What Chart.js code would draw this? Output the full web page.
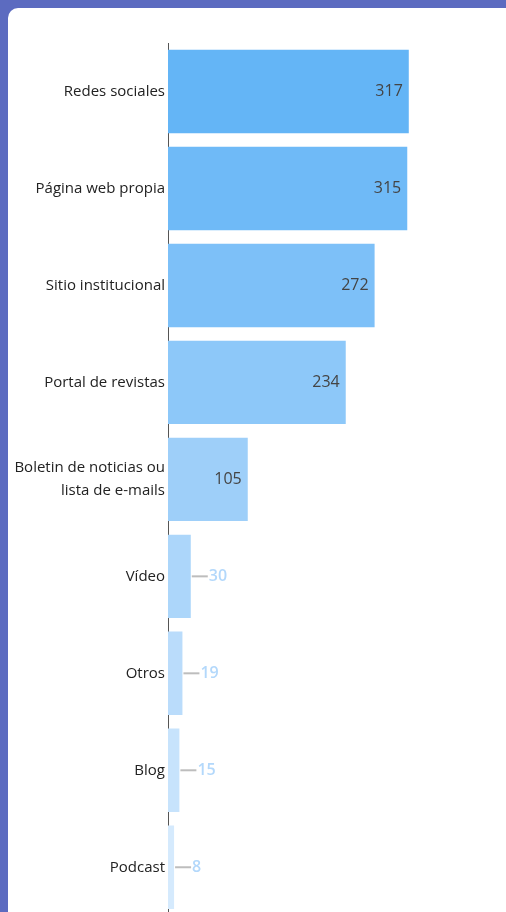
<!DOCTYPE html>
<html>
<head>
<meta charset="utf-8">
<script src="https://cdn.jsdelivr.net/npm/chart.js@4"></script>
<style>
  html, body { margin: 0; padding: 0; background: #5c6bc0; overflow: hidden; }
  body { width: 506px; height: 912px; position: relative; }
  .card { position: absolute; left: 8px; top: 8px; width: 520px; height: 1000px; background: #fff; border-top-left-radius: 10px; }
  #chart { position: absolute; left: 0; top: 0; }
</style>
</head>
<body>
<div class="card"></div>
<canvas id="chart" width="506" height="930"></canvas>
<script>
const categories = [
  'Redes sociales',
  'Página web propia',
  'Sitio institucional',
  'Portal de revistas',
  ['Boletin de noticias ou', 'lista de e-mails'],
  'Vídeo',
  'Otros',
  'Blog',
  'Podcast'
];
const values = [317, 315, 272, 234, 105, 30, 19, 15, 8];
const barColors = ['#64b5f6', '#6fbaf7', '#7dc0f8', '#8dc8f9', '#9ecff9', '#acd6fa', '#badcfb', '#c7e3fc', '#d5eafd'];

const fontFamily = '"Open Sans", sans-serif';

const valueLabels = {
  id: 'valueLabels',
  afterDatasetsDraw(chart) {
    const ctx = chart.ctx;
    const meta = chart.getDatasetMeta(0);
    ctx.save();
    ctx.textBaseline = 'middle';
    meta.data.forEach((bar, i) => {
      const w = bar.x - bar.base;
      if (w > 60) {
        ctx.font = '16px ' + fontFamily;
        ctx.fillStyle = '#444';
        ctx.textAlign = 'right';
        ctx.fillText(values[i], bar.x - 6, bar.y);
      } else {
        ctx.strokeStyle = '#bdbdbd';
        ctx.lineWidth = 2;
        ctx.beginPath();
        ctx.moveTo(bar.x + 1, bar.y);
        ctx.lineTo(bar.x + 17, bar.y);
        ctx.stroke();
        ctx.font = '600 16px ' + fontFamily;
        ctx.fillStyle = '#b3d8fb';
        ctx.textAlign = 'left';
        ctx.fillText(values[i], bar.x + 18, bar.y);
      }
    });
    ctx.restore();
  }
};

new Chart(document.getElementById('chart'), {
  type: 'bar',
  data: {
    labels: categories,
    datasets: [{
      data: values,
      backgroundColor: barColors,
      borderWidth: 0,
      categoryPercentage: 1,
      barPercentage: 0.86
    }]
  },
  options: {
    indexAxis: 'y',
    responsive: false,
    animation: false,
    layout: { padding: { top: 43, right: 0, left: 0, bottom: 0 } },
    plugins: { legend: { display: false }, tooltip: { enabled: false } },
    scales: {
      x: { display: false, min: 0, max: 445 },
      y: {
        afterFit(scale) { scale.width = 168; },
        grid: { display: false, drawTicks: false },
        border: { display: true, color: '#555', width: 1 },
        ticks: { padding: 3, color: '#222', font: { family: fontFamily, size: 15, lineHeight: 1.5 } }
      }
    }
  },
  plugins: [valueLabels]
});
</script>
</body>
</html>
